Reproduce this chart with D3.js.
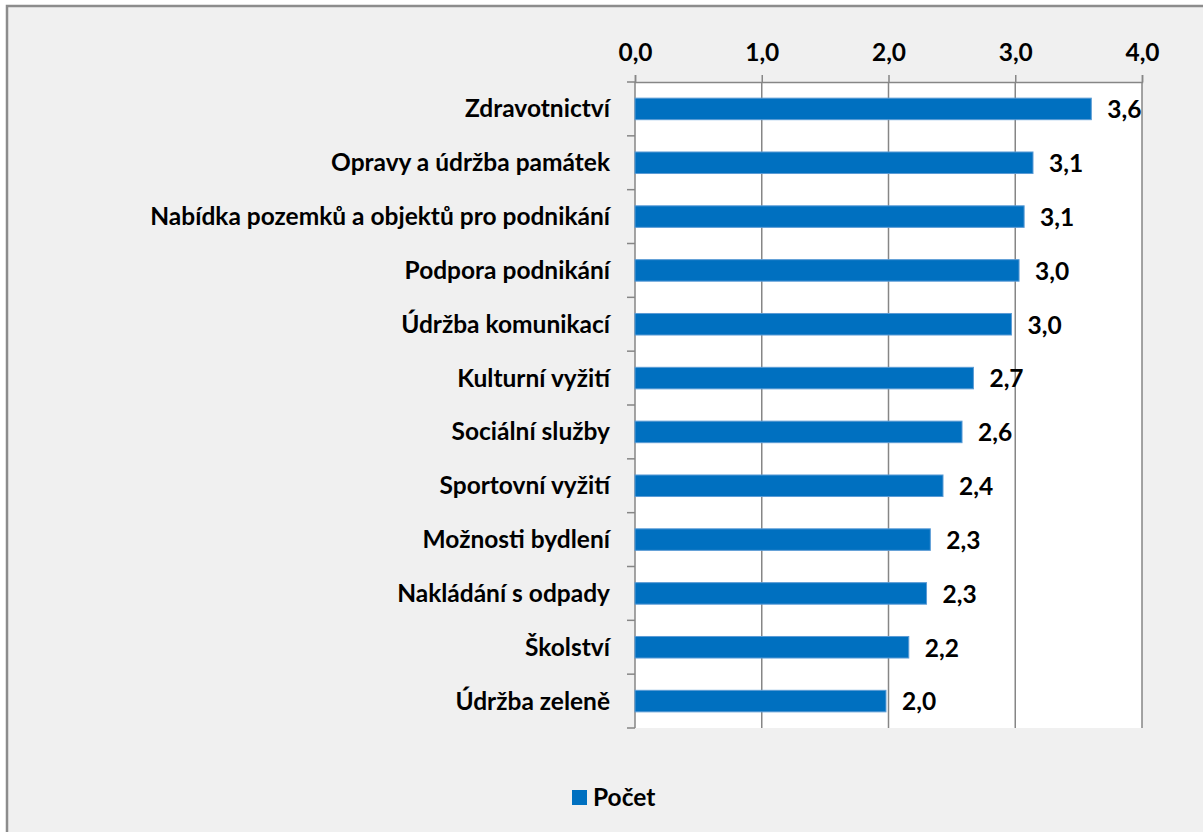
<!DOCTYPE html>
<html><head><meta charset="utf-8">
<script src="https://cdn.jsdelivr.net/npm/d3@7"></script>
<style>html,body{margin:0;padding:0;background:#fff;}svg{display:block;}</style>
</head><body>
<script>
const categories = ["Zdravotnictví","Opravy a údržba památek","Nabídka pozemků a objektů pro podnikání","Podpora podnikání","Údržba komunikací","Kulturní vyžití","Sociální služby","Sportovní vyžití","Možnosti bydlení","Nakládání s odpady","Školství","Údržba zeleně"];
const values = [3.60,3.14,3.07,3.03,2.97,2.67,2.58,2.43,2.33,2.30,2.16,1.98];
const ticks = [0,1,2,3,4];
const seriesName = "Počet";

const W=1203,H=832;
const font="Lato, 'Open Sans', sans-serif";
const fs=24.5;
const svg=d3.select("body").append("svg").attr("width",W).attr("height",H);
svg.append("rect").attr("x",0).attr("y",0).attr("width",W).attr("height",H).attr("fill","#fff");
svg.append("rect").attr("x",7).attr("y",6).attr("width",W).attr("height",H).attr("fill","#f0f0f0").attr("stroke","#8c8c8c").attr("stroke-width",2.5);

const x=d3.scaleLinear().domain([0,4]).range([635,1142]);
const y=d3.scaleBand().domain(categories).range([82,728]).paddingInner(0.6).paddingOuter(0.3);
const yb=d3.scaleBand().domain(categories).range([82,728]);

svg.append("rect").attr("x",x(0)).attr("y",82).attr("width",x(4)-x(0)).attr("height",728-82).attr("fill","#fff");

// gridlines
svg.append("g").selectAll("line").data(ticks.slice(1)).join("line")
  .attr("x1",d=>x(d)).attr("x2",d=>x(d)).attr("y1",82).attr("y2",728)
  .attr("stroke","#868686").attr("stroke-width",1.5);

// top axis
const ax=svg.append("g").attr("transform","translate(0,82)")
  .call(d3.axisTop(x).tickValues(ticks).tickSize(7).tickPadding(14).tickFormat(d=>d3.format(".1f")(d).replace(".",",")));
ax.select(".domain").attr("stroke","#868686").attr("stroke-width",1.5);
ax.selectAll(".tick line").attr("stroke","#868686").attr("stroke-width",1.5);
ax.selectAll("text").attr("font-family",font).attr("font-weight","bold").attr("font-size",fs).attr("fill","#000");

// left axis
const ay=svg.append("g").attr("transform",`translate(${x(0)},0)`);
ay.append("line").attr("x1",0).attr("x2",0).attr("y1",82).attr("y2",728).attr("stroke","#868686").attr("stroke-width",1.5);
const bounds=categories.map(c=>yb(c)).concat([728]);
ay.selectAll("line.t").data(bounds).join("line").attr("class","t")
  .attr("x1",-8).attr("x2",0).attr("y1",d=>d).attr("y2",d=>d).attr("stroke","#868686").attr("stroke-width",1.5);
ay.selectAll("text").data(categories).join("text")
  .attr("x",-25).attr("y",c=>yb(c)+yb.bandwidth()/2).attr("dy","0.35em")
  .attr("text-anchor","end").attr("font-family",font).attr("font-weight","bold").attr("font-size",fs).text(c=>c);

// bars
svg.append("g").selectAll("rect").data(values).join("rect")
  .attr("x",x(0)).attr("y",(d,i)=>y(categories[i])).attr("width",d=>x(d)-x(0)).attr("height",y.bandwidth())
  .attr("fill","#0070C0").attr("stroke","#5b9bd5").attr("stroke-width",1);

// value labels
svg.append("g").selectAll("text").data(values).join("text")
  .attr("x",d=>x(d)+16).attr("y",(d,i)=>y(categories[i])+y.bandwidth()/2).attr("dy","0.38em")
  .attr("font-family",font).attr("font-weight","bold").attr("font-size",fs)
  .text(d=>d3.format(".1f")(d).replace(".",","));

// legend
const lg=svg.append("g");
lg.append("rect").attr("x",572).attr("y",790).attr("width",15).attr("height",15).attr("fill","#0070C0");
lg.append("text").attr("x",593).attr("y",806).attr("font-family",font).attr("font-weight","bold").attr("font-size",fs).text(seriesName);
</script>
</body></html>
